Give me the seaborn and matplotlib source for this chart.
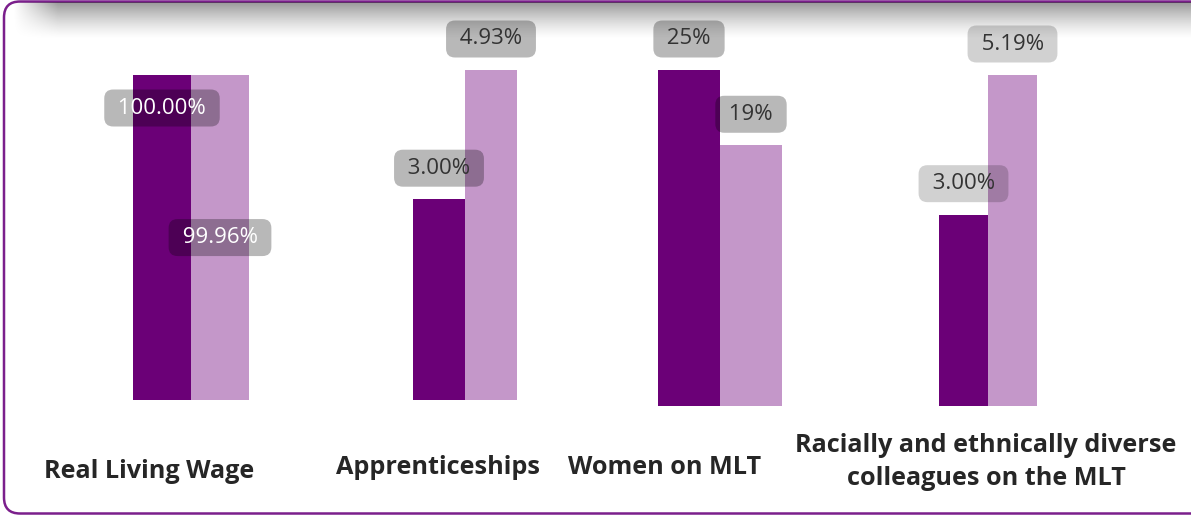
import numpy as np
import pandas as pd
import matplotlib
matplotlib.use("Agg")
import matplotlib.pyplot as plt
from matplotlib.patches import FancyBboxPatch
import seaborn as sns

# ---- data ----
categories = ["Real Living Wage", "Apprenticeships", "Women on MLT",
              "Racially and ethnically diverse\ncolleagues on the MLT"]
series = ["Target", "Actual"]
target_values = [100.00, 3.00, 25, 3.00]
actual_values = [99.96, 4.93, 19.4, 5.19]
decimals = [2, 2, 0, 2]

# ---- style ----
sns.set_theme(style="white")
plt.rcParams["font.family"] = ["Open Sans", "DejaVu Sans"]
DARK = "#6B0077"
LIGHT = "#C497C9"
palette = {"Target": DARK, "Actual": LIGHT}

W, H = 1191, 516
fig = plt.figure(figsize=(W / 100, H / 100), dpi=100)
fig.patch.set_facecolor("white")

# background card in pixel coordinates
bg = fig.add_axes([0, 0, 1, 1])
bg.set_xlim(0, W)
bg.set_ylim(H, 0)
bg.axis("off")
card = FancyBboxPatch((4, 1.5), W + 30, 512, boxstyle="round,pad=0,rounding_size=16",
                      facecolor="white", edgecolor="#7B1F8C", linewidth=1.8, zorder=1)
bg.add_patch(card)
# top shadow gradient
ny, nx = 60, 400
yy = np.linspace(0, 1, ny)[:, None]
xx = np.linspace(0, 1, nx)[None, :]
alpha = 0.40 * (1 - yy) ** 1.4
xfade = np.clip((xx * (W - 10)) / 45.0, 0, 1)
alpha = alpha * xfade
rgba = np.zeros((ny, nx, 4))
rgba[..., 3] = alpha
im = bg.imshow(rgba, extent=(12, W, 40, 2), aspect="auto", zorder=2, interpolation="bilinear")
im.set_clip_path(card)

def px_axes(x0, x1, ybottom, ytop):
    return fig.add_axes([x0 / W, (H - ybottom) / H, (x1 - x0) / W, (ybottom - ytop) / H])

# chart placement in pixels: (x0, x1, ybottom, ytop)
places = [(133, 249, 400, 75), (413, 517, 400, 70), (658, 782, 406, 70), (939, 1037, 406, 75)]
box_alpha = [0.28, 0.28, 0.28, 0.18]
text_col = ["white", "#333333", "#333333", "#333333"]
cat_pos = [(149, 471), (438, 467), (665, 467), (986, 462)]

for i, cat in enumerate(categories):
    x0, x1, yb, yt = places[i]
    ax = px_axes(x0, x1, yb, yt)
    ax.patch.set_alpha(0)
    df = pd.DataFrame({"series": series, "value": [target_values[i], actual_values[i]]})
    sns.barplot(data=df, x="series", y="value", hue="series", palette=palette,
                saturation=1, width=1.0, linewidth=0, legend=False, ax=ax,
                order=series, hue_order=series)
    ax.set_xlim(-0.5, 1.5)
    ax.set_ylim(0, max(target_values[i], actual_values[i]))
    ax.axis("off")
    vals = [target_values[i], actual_values[i]]
    for j, v in enumerate(vals):
        lab = f"{v:.{decimals[i]}f}%"
        if i == 0:
            if j == 0:
                xy, off = (j, v), -33
            else:
                xy, off = (j, v / 2), 0
        else:
            xy, off = (j, v), 31
        ax.annotate(" " + lab + " ", xy=xy, xytext=(0, off * 0.72), textcoords="offset points",
                    ha="center", va="center", fontsize=16, color=text_col[i],
                    annotation_clip=False, zorder=5,
                    bbox=dict(boxstyle="round,pad=0.36,rounding_size=0.4",
                              facecolor=(0, 0, 0, box_alpha[i]), edgecolor="none"))
    cx, cy = cat_pos[i]
    bg.text(cx, cy, cat, ha="center", va="center", fontsize=18.2, fontweight="bold",
            color="#262626", linespacing=1.45, zorder=5)

fig.savefig("out.png", dpi=100, facecolor="white")
